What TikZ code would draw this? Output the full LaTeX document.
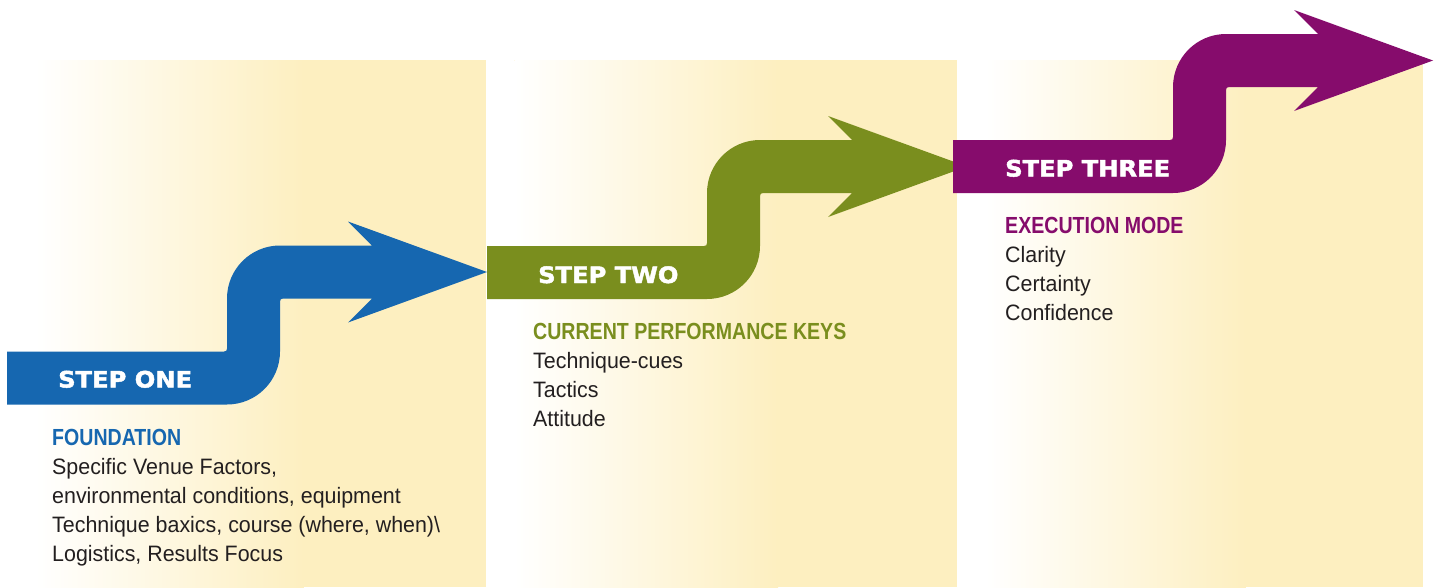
\documentclass[tikz,border=0pt]{standalone}
\usepackage{fontspec}
\newfontfamily\stepfont[FakeStretch=1.07, BoldFeatures={FakeBold=2}]{DejaVu Sans}
\newfontfamily\headfont[FakeStretch=0.84]{Liberation Sans}
\newfontfamily\bodyfont[FakeStretch=0.96]{Liberation Sans}
\definecolor{bgyellow}{HTML}{FDEFC0}
\definecolor{stepblue}{RGB}{22,103,176}
\definecolor{stepgreen}{RGB}{122,142,30}
\definecolor{steppurple}{RGB}{134,12,108}
\definecolor{bodygray}{HTML}{231F20}
\tikzset{
  steplabel/.style={anchor=base west, inner sep=0pt, text=white, font=\stepfont\bfseries\fontsize{22.6}{27}\selectfont},
  headtext/.style={anchor=base west, inner sep=0pt, font=\headfont\bfseries\fontsize{23.3}{29}\selectfont},
  bodytext/.style={anchor=base west, inner sep=0pt, text=bodygray, font=\bodyfont\fontsize{22.3}{29}\selectfont},
}
\newcommand\panelbg[2]{% #1 left x, #2 right x
  \fill[bgyellow] (#1,60) rectangle (#2,587);
  \fill[white] (#1,60) rectangle ({#1+0.06*(#2-#1)},587);
  \shade[left color=white, right color=bgyellow] ({#1+0.06*(#2-#1)},60) rectangle ({#1+0.62*(#2-#1)},587);
}
\newcommand\steparrow[3]{% #1 x0, #2 top of lower band, #3 colour
  \begin{scope}[shift={(#1,#2)}]
    \fill[#3] (0,0) -- (217,0) .. controls (219,0) and (220,-1) .. (220,-3)
      -- (220,-53) .. controls (220,-82.3) and (243.7,-106) .. (273,-106)
      -- (365,-106) -- (341,-130) -- (480,-79.5) -- (341,-29) -- (365,-53)
      -- (276,-53) .. controls (274,-53) and (273,-52) .. (273,-50)
      -- (273,0) .. controls (273,29.3) and (249.3,53) .. (220,53)
      -- (0,53) -- cycle;
  \end{scope}
}
\begin{document}
\begin{tikzpicture}[x=1pt,y=-1pt]
  \useasboundingbox (0,0) rectangle (1440,587);
  \fill[white] (0,0) rectangle (1440,587);
  % panels
  \panelbg{7}{486}
  \panelbg{486}{957}
  \panelbg{957}{1423}
  % arrows
  \steparrow{7}{351.5}{stepblue}
  \steparrow{487}{246}{stepgreen}
  \steparrow{953}{140}{steppurple}
  % step labels
  \node[steplabel] (s1) at (58,387.5) {STEP ONE};
  \node[steplabel] (s2) at (538,283) {STEP TWO};
  \node[steplabel] (s3) at (1005,176.5) {STEP THREE};
  % panel 1 text
  \node[headtext, text=stepblue] (h1) at (52,445.5) {FOUNDATION};
  \node[bodytext] (b11) at (52,474) {Specific Venue Factors,};
  \node[bodytext] (b12) at (52,503) {environmental conditions, equipment};
  \node[bodytext] (b13) at (52,532) {Technique baxics, course (where, when)\textbackslash};
  \node[bodytext] (b14) at (52,561) {Logistics, Results Focus};
  % panel 2 text
  \node[headtext, text=stepgreen] (h2) at (533,339) {CURRENT PERFORMANCE KEYS};
  \node[bodytext] (b21) at (533,368) {Technique-cues};
  \node[bodytext] (b22) at (533,397) {Tactics};
  \node[bodytext] (b23) at (533,426) {Attitude};
  % panel 3 text
  \node[headtext, text=steppurple] (h3) at (1005,233) {EXECUTION MODE};
  \node[bodytext] (b31) at (1005,262) {Clarity};
  \node[bodytext] (b32) at (1005,291) {Certainty};
  \node[bodytext] (b33) at (1005,320) {Confidence};
\end{tikzpicture}
\end{document}
